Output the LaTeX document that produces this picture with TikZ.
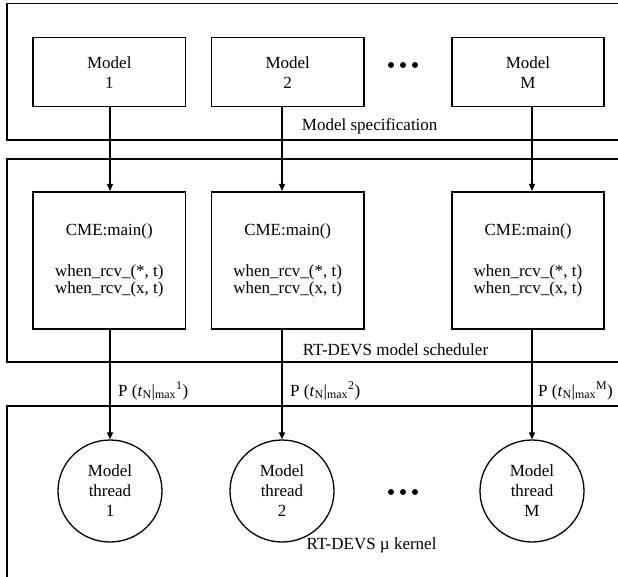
\documentclass[tikz,border=0pt]{standalone}
\usepackage{fontspec}
\setmainfont{Liberation Serif}
\usetikzlibrary{arrows.meta,shapes.geometric}
\begin{document}
\begin{tikzpicture}[x=1pt,y=-1pt,
  font=\fontsize{17}{20}\selectfont,
  layer/.style={draw, line width=1.4pt},
  mbox/.style={draw, line width=1.6pt, minimum width=152.5pt, minimum height=69pt,
    align=center, inner sep=0pt},
  cbox/.style={mbox, minimum height=137pt, font=\fontsize{17}{17.3}\selectfont},
  thr/.style={draw, ellipse, line width=1.3pt, minimum width=104pt,
    minimum height=102pt, align=center, inner sep=0pt},
  flow/.style={-{Triangle[length=7pt,width=6pt]}, line width=1.1pt},
  plabel/.style={anchor=west, inner sep=0pt},
  caption/.style={inner sep=0pt}]
  \useasboundingbox (0,0) rectangle (618,577);

  % three layers, running off the right and bottom edges
  \draw[layer] (7,3.5) rectangle (640,140);
  \draw[layer] (7,159) rectangle (640,362);
  \draw[layer] (7,406) rectangle (640,600);

  % model specifications
  \node[mbox] (m1) at (109.3,72.2) {Model\\1};
  \node[mbox] (m2) at (287.7,72.2) {Model\\2};
  \node[mbox] (mM) at (528,72.2) {Model\\M};
  \foreach \x in {391,403,415} \fill (\x,65) circle (3);
  \node[caption] (spec) at (369.7,126) {Model specification};

  % scheduler entries
  \node[cbox] (c1) at (109.3,260.3) {CME:main()\\[24pt]when\_rcv\_(*, t)\\when\_rcv\_(x, t)};
  \node[cbox] (c2) at (287.7,260.3) {CME:main()\\[24pt]when\_rcv\_(*, t)\\when\_rcv\_(x, t)};
  \node[cbox] (cM) at (528,260.3) {CME:main()\\[24pt]when\_rcv\_(*, t)\\when\_rcv\_(x, t)};
  \node[caption] (sched) at (395.5,350) {RT-DEVS model scheduler};

  % model threads in the kernel
  \node[thr] (t1) at (110,491) {Model\\thread\\1};
  \node[thr] (t2) at (282,491) {Model\\thread\\2};
  \node[thr] (tM) at (532,491) {Model\\thread\\M};
  \foreach \x in {391,403,415} \fill (\x,492) circle (3);
  \node[caption] (kern) at (371.5,545) {RT-DEVS µ kernel};

  % connectors
  \draw[flow] (m1.south -| 110,0) -- (c1.north -| 110,0);
  \draw[flow] (m2.south -| 282,0) -- (c2.north -| 282,0);
  \draw[flow] (mM.south -| 532,0) -- (cM.north -| 532,0);
  \draw[flow] (c1.south -| 110,0) -- (t1.north);
  \draw[flow] (c2.south -| 282,0) -- (t2.north);
  \draw[flow] (cM.south -| 532,0) -- (tM.north);

  % priority labels
  \node[plabel] (p1) at (118,391) {P (\textit{t}\textsubscript{N}|\textsubscript{max}\textsuperscript{1})};
  \node[plabel] (p2) at (290,391) {P (\textit{t}\textsubscript{N}|\textsubscript{max}\textsuperscript{2})};
  \node[plabel] (pM) at (538,391) {P (\textit{t}\textsubscript{N}|\textsubscript{max}\textsuperscript{M})};
\end{tikzpicture}
\end{document}
